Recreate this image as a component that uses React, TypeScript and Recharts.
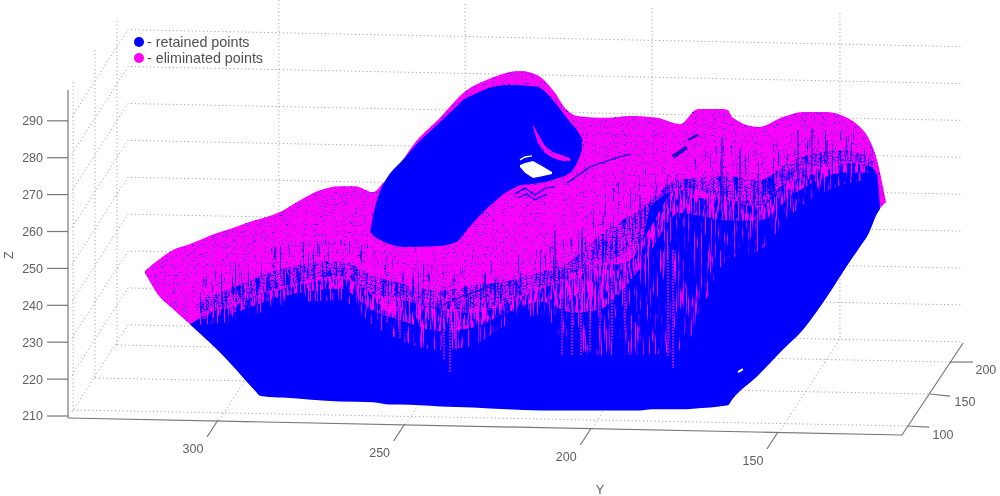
import { Area, ComposedChart, Line, ReferenceDot, XAxis, YAxis } from "recharts";

const BLUE = "#0000ff";
const MAGENTA = "#ff00ff";
const TEXT = "#5f5f5f";
const AXIS = "#777777";
const DOTS = "#a4a4a4";

// tick labels
const zTicks = [210, 220, 230, 240, 250, 260, 270, 280, 290];
const yTicks = [300, 250, 200, 150];
const xTickLabels = [
  { y: 105.8, z: 205.1, text: "100" },
  { y: 99.9, z: 213.8, text: "150" },
  { y: 94.3, z: 222.7, text: "200" },
];

// whole point cloud outline
const cloudY = [319.56, 316.34, 312.05, 307.5, 300.27, 296.79, 289.82, 288.75, 287.41, 283.39, 278.03, 272.68, 267.32, 263.3, 258.48, 255.8, 251.78, 247.76, 240.53, 234.37, 227.94, 219.1, 214.55, 210.26, 206.51, 203.83, 195.79, 189.63, 182.4, 176.24, 171.42, 164.99, 163.38, 162.31, 155.34, 148.65, 143.29, 136.86, 131.5, 128.02, 125.88, 123.47, 121.06];
const cloudTop = [249.3, 252, 255, 256.6, 259.6, 260.7, 263.1, 263.4, 263.8, 265.3, 268.5, 271.2, 272.3, 272.3, 270.7, 273.1, 277.5, 283.4, 290.8, 297.5, 301.1, 303.5, 302.4, 298.3, 292.9, 291.3, 290.8, 291.3, 290.8, 289.1, 293.2, 293.2, 292.9, 291, 288.3, 291, 292.4, 292.4, 290.8, 288.3, 285.6, 279.4, 268];
const cloudBottom = [248.8, 243.3, 239, 234.9, 228.2, 224.6, 216.8, 215.7, 215.6, 215.4, 215.1, 214.9, 214.3, 214.1, 214.1, 213.8, 213.5, 213.3, 213, 212.7, 212.4, 212.2, 211.9, 211.9, 211.9, 211.9, 211.9, 211.9, 212.2, 212.2, 212.4, 213, 213.3, 214.6, 221.1, 228.2, 233.6, 242.5, 250.9, 256.1, 259.3, 265, 268];

// solid retained body
const bodyY = [307.5, 300.27, 296.79, 289.82, 288.75, 287.41, 282.59, 267.32, 258.48, 253.92, 251.25, 240.53, 231.69, 222.58, 213.74, 204.9, 197.67, 191.51, 186.95, 183.74, 176.24, 172.76, 163.38, 162.31, 155.34, 148.65, 143.29, 136.86, 131.5, 128.02, 125.88, 123.47, 122.66];
const bodyTop = [234.9, 238.7, 239.5, 242.5, 242.8, 243.2, 244.4, 247.1, 242.5, 237.9, 241.4, 238.7, 237.9, 240.6, 244.4, 247.1, 250.7, 251.5, 256.1, 267.2, 271.2, 269.3, 268.5, 268.3, 266.6, 272.6, 274.8, 276.7, 278.6, 278.3, 278, 275.3, 266.4];
const bodyBottom = [234.9, 228, 224.4, 216.6, 215.5, 215.3, 215, 213.9, 213.7, 213.1, 213.1, 212.6, 212.3, 211.8, 211.5, 211.5, 211.5, 211.5, 211.5, 211.8, 211.8, 212, 212.9, 214.4, 221, 228, 233.4, 242.3, 250.7, 255.9, 259.1, 264.8, 266.1];

// streaky zone where the two classes mix
const zoneY = [304.82, 294.11, 282.59, 267.32, 258.48, 251.25, 240.53, 231.69, 222.58, 213.74, 204.9, 197.67, 186.95, 176.24, 163.65, 154.81, 145.97, 131.5, 124.54];
const blueZoneTop = [246.9, 252.3, 256.3, 257.7, 255, 252.3, 250.9, 253.6, 253.6, 255, 259.1, 268.5, 276.7, 278, 283.4, 282.1, 286.2, 287.5, 282.1];
const blueMidTop = [241.5, 245.5, 250, 252, 248, 246, 244, 245.5, 246.5, 249, 252.5, 259, 266, 274, 275, 274, 279.5, 282, 279];
const blueZoneBottom = [236, 239, 243, 246, 241, 240, 237, 237, 239, 243, 246, 250, 255, 270, 267, 265, 273, 277, 276];
const pinkZoneTop = [238, 241, 245, 248, 243, 242, 239, 239, 241, 245, 248, 251, 257, 272, 269, 267, 275, 279, 278];
const pinkZoneBottom = [234.7, 236, 240.1, 241.4, 234.7, 230.6, 227.9, 229.2, 234.7, 237.4, 227.9, 226.5, 226.5, 227.9, 252.3, 255, 265, 273, 274];
const pinkInnerBottom = [236, 238.5, 242.5, 244.5, 238.5, 236, 233, 234, 238, 241, 238, 239, 250, 265, 263, 263, 270, 276, 276];

// hump of retained points
const humpY = [259.28, 257.41, 249.37, 240.53, 235.98, 234.37, 231.69, 226.33, 221.78, 214.55, 210.26, 205.71, 203.83, 202.49];
const humpTop = [259.9, 268.5, 280.7, 289.7, 294, 295.6, 297, 299.2, 299.7, 299.2, 295.6, 289.7, 287.5, 285.3];
const humpBottom = [259.9, 258.2, 255.8, 256.1, 257.2, 259.1, 262.3, 267.7, 271.2, 272.6, 274, 275.9, 278.6, 282.1];

const ridgeY = [215.6, 214.3, 212.4, 210.26, 207.85, 205.71];
const ridgeTop = [288.9, 286.4, 283.2, 281.5, 280.7, 279.9];
const ridgeBottom = [288.1, 284, 281.3, 279.9, 279.1, 279.1];

const holeY = [219.1, 217.76, 215.62, 213.21, 210.53];
const holeTop = [278, 278.6, 279.1, 277.75, 276.1];
const holeBottom = [277.5, 275.9, 274.5, 275, 275.6];

const patchY = [221.78, 219.1, 215.62, 212.4, 208.38];
const patchTop = [271.2, 272.6, 272.9, 273.4, 273.4];
const patchBottom = [270.7, 269.1, 268, 268.8, 270.7];

// thin creases
const creases = [
  { width: 1.2, color: BLUE, y: [220.44, 217.76, 215.08, 212.4, 209.72], z: [270.2, 271.8, 269.9, 271.8, 272.1] },
  { width: 1.2, color: BLUE, y: [219.64, 217.22, 215.08, 211.87], z: [269.1, 270.2, 268.5, 270.2] },
  { width: 1.4, color: "#1a10d8", y: [206.51, 200.35, 195, 189.63], z: [273.1, 277.5, 279.4, 281] },
  { width: 1.3, color: "#1a10d8", y: [239.73, 232.5, 225.8], z: [240.1, 243.3, 245.5] },
  { width: 4, color: "#2010c8", y: [178.1, 174.4], z: [280.2, 282.9] },
  { width: 2.5, color: "#2010c8", y: [174.1, 171.4], z: [284.8, 286.2] },
  { width: 1.5, color: "#ffffff", y: [219.1, 217.76, 215.9], z: [279.4, 280.2, 280.5] },
  { width: 2, color: "#ffffff", y: [160.7, 159.4], z: [221.9, 222.7] },
];

// long vertical streaks
const pinkStreakY = [254.7, 251.25, 239.46, 237.85, 236.25, 207.85, 205.17, 202.76, 200.35, 197.67, 194.46, 191, 179.45, 178.1];
const pinkStreakTop = [244.1, 241.4, 241.4, 238.7, 238.7, 246.9, 248.2, 248.2, 249.6, 251.7, 255, 255, 256.1, 255];
const pinkStreakBottom = [235.2, 230.9, 225.2, 221.7, 227.9, 226.3, 226.3, 226.3, 227.4, 229.3, 230.6, 233.3, 226.3, 223];
const blueStreakY = [164.99, 160.17, 144.63, 140.88, 136.86, 209.72, 186.95];
const blueStreakTop = [285.6, 282.1, 287.5, 288, 284.8, 260.4, 269.9];
const blueStreakBottom = [267.2, 265.8, 275.3, 276.1, 277.5, 244.1, 255];

// dotted box
const wallLevels = [210, 220, 230, 240, 250, 260, 270, 280, 290];
const wallVerticals = [
  { y: [327.06, 327.06], z: [229.24, 317.86] },
  { y: [332.95, 332.95], z: [220.3, 309.2] },
  { y: [338.8, 338.8], z: [211.6, 300.5] },
  { y: [283.7, 283.7, 300], z: [322.7, 233.85, 208.37] },
  { y: [233.8, 233.8, 250], z: [321.65, 232.76, 207.29] },
  { y: [183.7, 183.7, 200], z: [320.6, 231.95, 206.2] },
  { y: [133.4, 133.4, 150], z: [319.2, 230.87, 205.1] },
  { y: [338.8, 115.2], z: [211.63, 207.29] },
  { y: [332.95, 109.3], z: [220.3, 215.96] },
  { y: [327.06, 103.9], z: [229.24, 224.63] },
];
const axisLines = [
  { y: [340.18, 340.18], z: [209.46, 298.4] },
  { y: [340.18, 116.77, 100.4], z: [209.46, 204.85, 229.78] },
  { y: [115.2, 109.5], z: [207.29, 207] },
  { y: [109.3, 103.9], z: [215.96, 215.4] },
  { y: [103.9, 97.75], z: [224.63, 224.63] },
];

const toPoints = (y: number[], z: number[]) => y.map((v, i) => ({ y: v, z: z[i] }));
const toBand = (y: number[], low: number[], high: number[]) =>
  y.map((v, i) => ({ y: v, band: [low[i], high[i]] }));

const wallLines = wallLevels.map((level) =>
  toPoints([339.1, 324.1, 100.7], [level + 1.1, level + 24.7, level + 20.1]),
);

function SlantTick({ x, y, payload }: any) {
  const start = y - 28 + (300 - payload.value) * 0.08;
  return (
    <g>
      <line x1={x} y1={start} x2={x - 11} y2={start + 17} stroke={AXIS} strokeWidth={1.2} />
      <text x={x - 25} y={start + 33} textAnchor="middle" fontSize={12.5} fill={TEXT}>
        {payload.value}
      </text>
    </g>
  );
}

function band(key: string, data: any[], fill: string, filter?: string, curve = "monotoneX") {
  return (
    <Area
      key={key}
      data={data}
      dataKey="band"
      type={curve as any}
      fill={fill}
      fillOpacity={1}
      stroke="none"
      filter={filter}
      dot={false}
      activeDot={false}
      isAnimationActive={false}
    />
  );
}

function path(key: string, data: any[], stroke: string, width: number, dash?: string, layer?: number) {
  return (
    <Line
      key={key}
      data={data}
      dataKey="z"
      type="linear"
      stroke={stroke}
      strokeWidth={width}
      strokeDasharray={dash}
      dot={false}
      activeDot={false}
      isAnimationActive={false}
      zIndex={layer}
    />
  );
}

export default function App() {
  return (
    <div
      style={{
        position: "absolute",
        left: 0,
        top: 0,
        width: 1000,
        height: 496,
        background: "#fff",
        fontFamily: "'Liberation Sans', Arial, sans-serif",
        filter: "blur(0.35px)",
      }}
    >
      <ComposedChart width={1000} height={496} margin={{ top: 0, right: 0, bottom: 0, left: 0 }}>
        <defs>
          <filter id="speckle" x="0" y="0" width="1" height="1" colorInterpolationFilters="sRGB">
            <feTurbulence type="fractalNoise" baseFrequency="0.9" numOctaves={2} seed={4} result="n" />
            <feColorMatrix in="n" type="matrix" values="0 0 0 0 0.05  0 0 0 0 0  0 0 0 0 1  7 0 0 0 -4.3" />
            <feComposite in2="SourceAlpha" operator="in" result="dots" />
            <feMerge>
              <feMergeNode in="SourceGraphic" />
              <feMergeNode in="dots" />
            </feMerge>
          </filter>
          <filter id="blueDots" x="0" y="0" width="1" height="1" colorInterpolationFilters="sRGB">
            <feTurbulence type="fractalNoise" baseFrequency="0.7" numOctaves={2} seed={14} />
            <feColorMatrix type="matrix" values="0 0 0 0 0  0 0 0 0 0  0 0 0 0 1  7 0 0 0 -3.7" />
            <feComposite in2="SourceAlpha" operator="in" />
          </filter>
          <filter id="blueSparse" x="0" y="0" width="1" height="1" colorInterpolationFilters="sRGB">
            <feTurbulence type="fractalNoise" baseFrequency="0.6 0.03" numOctaves={3} seed={9} />
            <feColorMatrix type="matrix" values="0 0 0 0 0.1  0 0 0 0 0  0 0 0 0 0.9  8 0 0 0 -5" />
            <feComposite in2="SourceAlpha" operator="in" />
          </filter>
          <filter id="blueStreaks" x="0" y="0" width="1" height="1" colorInterpolationFilters="sRGB">
            <feTurbulence type="fractalNoise" baseFrequency="0.5 0.03" numOctaves={3} seed={17} />
            <feColorMatrix type="matrix" values="0 0 0 0 0  0 0 0 0 0  0 0 0 0 1  8 0 0 0 -4.2" />
            <feComposite in2="SourceAlpha" operator="in" />
          </filter>
          <filter id="pinkStreaks" x="0" y="0" width="1" height="1" colorInterpolationFilters="sRGB">
            <feTurbulence type="fractalNoise" baseFrequency="0.7 0.025" numOctaves={3} seed={21} />
            <feColorMatrix type="matrix" values="0 0 0 0 1  0 0 0 0 0  0 0 0 0 1  9 0 0 0 -5.3" />
            <feComposite in2="SourceAlpha" operator="in" />
          </filter>
          <filter id="pinkDense" x="0" y="0" width="1" height="1" colorInterpolationFilters="sRGB">
            <feTurbulence type="fractalNoise" baseFrequency="0.55 0.05" numOctaves={3} seed={33} />
            <feColorMatrix type="matrix" values="0 0 0 0 1  0 0 0 0 0  0 0 0 0 1  9 0 0 0 -4.2" />
            <feComposite in2="SourceAlpha" operator="in" />
          </filter>
        </defs>

        <XAxis
          dataKey="y"
          type="number"
          reversed
          domain={[90.52, 340.18]}
          ticks={yTicks}
          interval={0}
          height={56}
          axisLine={false}
          tickLine={false}
          tick={<SlantTick />}
          label={{ value: "Y", position: "insideBottom", offset: 2, dx: 66, fontSize: 12.5, fill: TEXT }}
        />
        <YAxis
          dataKey="z"
          type="number"
          domain={[203.5, 322.74]}
          ticks={zTicks}
          interval={0}
          width={68}
          axisLine={false}
          tickSize={21}
          tickMargin={4}
          tickLine={{ stroke: AXIS, strokeWidth: 1.2 }}
          tick={{ fill: TEXT, fontSize: 12.5 }}
          label={{ value: "Z", angle: -90, position: "insideLeft", offset: 9, dy: 39, fontSize: 12.5, fill: TEXT }}
        />

        {wallLines.map((pts, i) => path(`wall${i}`, pts, DOTS, 1, "1.2 2.6", 50))}
        {wallVerticals.map((l, i) => path(`vert${i}`, toPoints(l.y, l.z), DOTS, 1, "1.2 2.6", 50))}

        {band("cloud", toBand(cloudY, cloudBottom, cloudTop), MAGENTA, "url(#speckle)")}
        {band("blueZoneOuter", toBand(zoneY, blueZoneBottom, blueZoneTop), BLUE, "url(#blueSparse)")}
        {band("blueZoneDots", toBand(zoneY, blueZoneBottom, blueMidTop), BLUE, "url(#blueDots)")}
        {band("blueZone", toBand(zoneY, blueZoneBottom, blueMidTop), BLUE, "url(#blueStreaks)")}
        {blueStreakY.map((y, i) =>
          path(`bs${i}`, toPoints([y, y], [blueStreakTop[i], blueStreakBottom[i]]), "#2a10d0", 1.3),
        )}
        {band("body", toBand(bodyY, bodyBottom, bodyTop), BLUE)}
        {band("pinkInner", toBand(zoneY, pinkInnerBottom, pinkZoneTop), MAGENTA, "url(#pinkDense)")}
        {band("pinkZone", toBand(zoneY, pinkZoneBottom, pinkZoneTop), MAGENTA, "url(#pinkStreaks)")}
        {pinkStreakY.map((y, i) =>
          path(`ps${i}`, toPoints([y, y], [pinkStreakTop[i], pinkStreakBottom[i]]), "#d010f0", 1.5, "2 1"),
        )}
        {band("hump", toBand(humpY, humpBottom, humpTop), BLUE)}
        {band("ridge", toBand(ridgeY, ridgeBottom, ridgeTop), MAGENTA, "url(#speckle)", "linear")}
        {band("patch", toBand(patchY, patchBottom, patchTop), MAGENTA, "url(#speckle)", "linear")}
        {band("hole", toBand(holeY, holeBottom, holeTop), "#ffffff", undefined, "linear")}
        {creases.map((c, i) => path(`crease${i}`, toPoints(c.y, c.z), c.color, c.width))}

        {axisLines.map((l, i) => path(`axis${i}`, toPoints(l.y, l.z), AXIS, 1.2))}
        {xTickLabels.map((t) => (
          <ReferenceDot
            key={t.text}
            x={t.y}
            y={t.z}
            r={0}
            stroke="none"
            fill="none"
            ifOverflow="visible"
            label={{ value: t.text, position: "center", fontSize: 12.5, fill: TEXT }}
          />
        ))}
      </ComposedChart>

      <div style={{ position: "absolute", left: 134, top: 34, fontSize: 14.3, lineHeight: "16px", color: "#505050" }}>
        {[
          { color: BLUE, text: "- retained points" },
          { color: MAGENTA, text: "- eliminated points" },
        ].map((row) => (
          <div key={row.text} style={{ display: "flex", alignItems: "center", height: 16 }}>
            <span style={{ width: 10, height: 10, borderRadius: 5, background: row.color, marginRight: 3 }} />
            {row.text}
          </div>
        ))}
      </div>
    </div>
  );
}
